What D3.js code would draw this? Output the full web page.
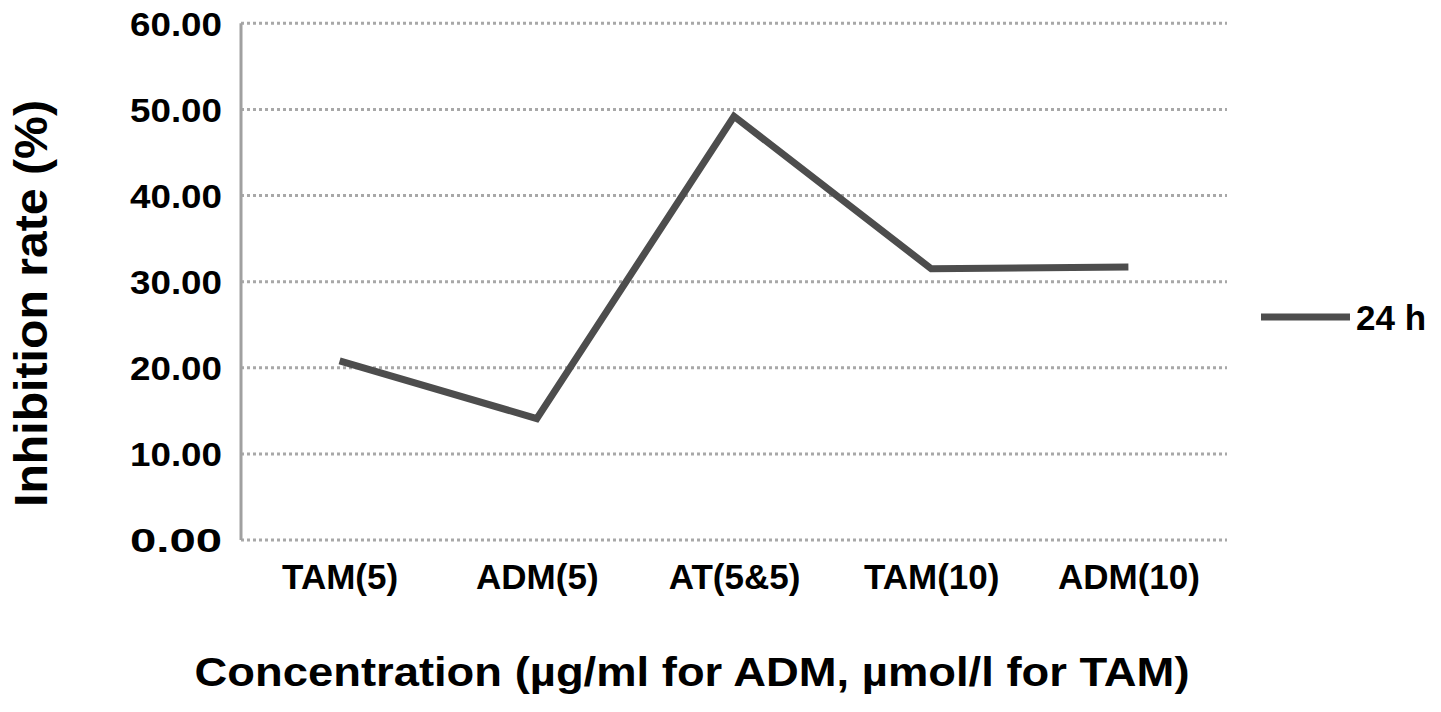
<!DOCTYPE html>
<html><head><meta charset="utf-8">
<script src="https://cdn.jsdelivr.net/npm/d3@7"></script>
<style>body{margin:0;background:#fff}svg{display:block}text{font-family:"Liberation Sans",Arial,sans-serif;font-weight:bold;fill:#000}</style>
</head><body>
<svg id="c" width="1441" height="712"></svg>
<script>
const categories = ["TAM(5)", "ADM(5)", "AT(5&5)", "TAM(10)", "ADM(10)"];
const values24h = [20.8, 14.1, 49.2, 31.5, 31.7];
const yTicks = [0, 10, 20, 30, 40, 50, 60];
const seriesName = "24 h";
const xTitle = "Concentration (µg/ml for ADM, µmol/l for TAM)";
const yTitle = "Inhibition rate (%)";

(function () {
const svg = d3.select("#c");
const pL = 241, pR = 1227, pT = 23.3, pB = 540;
const x = d3.scalePoint().domain(categories).range([pL, pR]).padding(0.5);
const y = d3.scaleLinear().domain([0, 60]).range([pB, pT]);

// gridlines
svg.append("g").selectAll("line").data(yTicks).join("line")
  .attr("x1", pL).attr("x2", pR)
  .attr("y1", d => y(d)).attr("y2", d => y(d))
  .attr("stroke", "#a8a8a8").attr("stroke-width", 3).attr("stroke-dasharray", "3,3");

// y axis line
svg.append("line").attr("x1", pL).attr("x2", pL).attr("y1", y(60)).attr("y2", y(0))
  .attr("stroke", "#a0a0a0").attr("stroke-width", 3);

// y tick labels
const yAxis = svg.append("g").attr("transform", `translate(${pL - 19},0)`)
  .call(d3.axisLeft(y).tickValues(yTicks).tickFormat(d3.format(".2f")).tickSize(0).tickPadding(0));
yAxis.select(".domain").remove();
yAxis.selectAll("text").attr("font-size", 33).attr("font-family", null)
  .attr("dy", "0.36em").attr("textLength", 92).attr("lengthAdjust", "spacingAndGlyphs");

// x tick labels
const xAxis = svg.append("g").attr("transform", `translate(0,589)`)
  .call(d3.axisBottom(x).tickSize(0).tickPadding(0));
xAxis.select(".domain").remove();
xAxis.selectAll("text").attr("font-size", 35).attr("font-family", null).attr("dy", 0).attr("y", 0);

// line
const line = d3.line().x((d, i) => x(categories[i])).y(d => y(d));
svg.append("path").datum(values24h).attr("d", line)
  .attr("fill", "none").attr("stroke", "#4d4d4d").attr("stroke-width", 7)
  .attr("stroke-linejoin", "miter");

// axis titles
svg.append("text").attr("x", 692).attr("y", 686).attr("text-anchor", "middle")
  .attr("font-size", 41).attr("textLength", 995).attr("lengthAdjust", "spacingAndGlyphs").text(xTitle);
svg.append("text").attr("transform", "translate(47,303.5) rotate(-90)").attr("text-anchor", "middle")
  .attr("font-size", 47).attr("textLength", 407).attr("lengthAdjust", "spacingAndGlyphs").text(yTitle);

// legend
svg.append("line").attr("x1", 1261).attr("x2", 1350).attr("y1", 317).attr("y2", 317)
  .attr("stroke", "#4d4d4d").attr("stroke-width", 7);
svg.append("text").attr("x", 1356).attr("y", 330).attr("font-size", 35).text(seriesName);
})();
</script>
</body></html>
